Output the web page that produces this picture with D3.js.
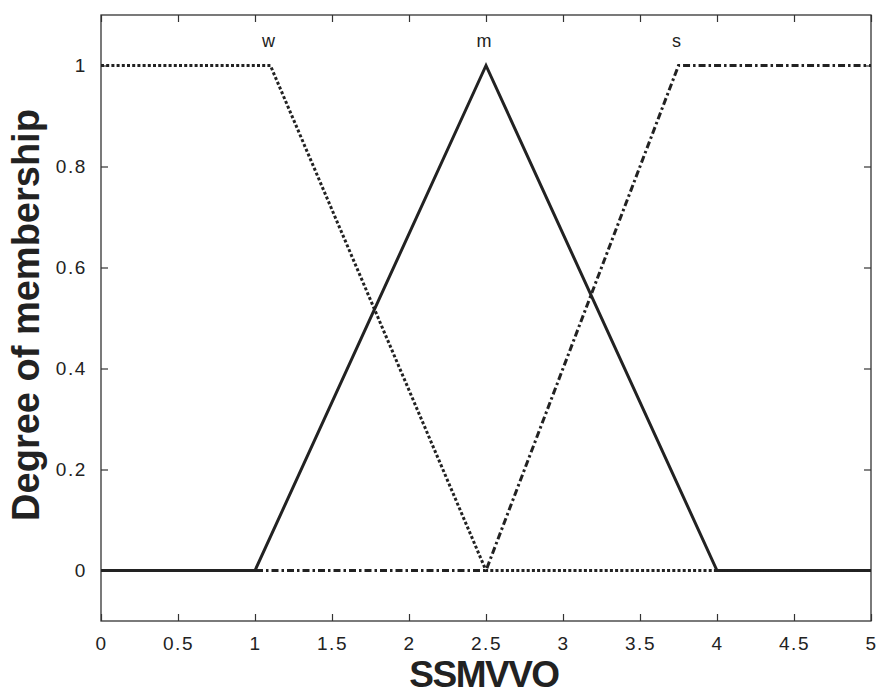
<!DOCTYPE html>
<html>
<head>
<meta charset="utf-8">
<script src="https://cdn.jsdelivr.net/npm/d3@7"></script>
<style>
  html, body { margin: 0; padding: 0; background: #fff; }
  svg { display: block; }
  text { font-family: "Liberation Sans", Arial, Helvetica, sans-serif; fill: #222; }
</style>
</head>
<body>
<svg id="chart" width="882" height="696"></svg>
<script>
// ---- data ----
const xTicks = [0, 0.5, 1, 1.5, 2, 2.5, 3, 3.5, 4, 4.5, 5];
const yTicks = [0, 0.2, 0.4, 0.6, 0.8, 1];
const xTickLabels = ["0", "0.5", "1", "1.5", "2", "2.5", "3", "3.5", "4", "4.5", "5"];
const yTickLabels = ["0", "0.2", "0.4", "0.6", "0.8", "1"];
const seriesNames = ["m", "w", "s"];
const mX = [0, 1, 2.5, 4, 5];
const mY = [0, 0, 1, 0, 0];
const wX = [0, 1.1, 2.5, 5];
const wY = [1, 1, 0, 0];
const sX = [0, 2.5, 3.75, 5];
const sY = [0, 0, 1, 1];
const labelNames = ["w", "m", "s"];
const labelX = [1.1, 2.5, 3.75];
const xLabel = "SSMVVO";
const yLabel = "Degree of membership";

// ---- layout ----
const svg = d3.select("#chart");
const L = 101, R = 871, T = 15, B = 621;
const x = d3.scaleLinear().domain([0, 5]).range([L, R]);
const y = d3.scaleLinear().domain([-0.1, 1.1]).range([B, T]);
const axisColor = "#333";
const tickLen = 7;

// frame
svg.append("rect").attr("x", L).attr("y", T).attr("width", R - L).attr("height", B - T)
  .attr("fill", "none").attr("stroke", axisColor).attr("stroke-width", 1.3);

// axes (inward ticks)
const fmtX = (d, i) => xTickLabels[i];
const fmtY = (d, i) => yTickLabels[i];
function styleAxis(g) {
  g.attr("font-size", 19);
  g.select(".domain").remove();
  g.selectAll(".tick line").attr("stroke", axisColor).attr("stroke-width", 1.2);
  g.selectAll(".tick text").attr("font-size", 19).attr("fill", "#3a3a3a")
    .attr("font-family", "Liberation Sans, Arial, sans-serif").style("letter-spacing", "1.6px");
}
svg.append("g").attr("transform", `translate(0,${B})`)
  .call(d3.axisBottom(x).tickValues(xTicks).tickFormat(fmtX).tickSizeInner(-tickLen).tickPadding(16).tickSizeOuter(0))
  .call(styleAxis);
svg.append("g").attr("transform", `translate(0,${T})`)
  .call(d3.axisTop(x).tickValues(xTicks).tickFormat("").tickSizeInner(-tickLen).tickSizeOuter(0))
  .call(styleAxis);
svg.append("g").attr("transform", `translate(${L},0)`)
  .call(d3.axisLeft(y).tickValues(yTicks).tickFormat(fmtY).tickSizeInner(-tickLen).tickPadding(14).tickSizeOuter(0))
  .call(styleAxis);
svg.append("g").attr("transform", `translate(${R},0)`)
  .call(d3.axisRight(y).tickValues(yTicks).tickFormat("").tickSizeInner(-tickLen).tickSizeOuter(0))
  .call(styleAxis);

// lines
const line = d3.line().x(d => x(d[0])).y(d => y(d[1]));
const series = [
  { name: "m", pts: d3.zip(mX, mY), dash: null },
  { name: "w", pts: d3.zip(wX, wY), dash: "3,2.2" },
  { name: "s", pts: d3.zip(sX, sY), dash: "7,3,2.5,3" }
];
svg.append("g").selectAll("path").data(series).join("path")
  .attr("d", d => line(d.pts))
  .attr("fill", "none")
  .attr("stroke", "#222")
  .attr("stroke-width", 3)
  .attr("stroke-linejoin", "miter")
  .attr("stroke-dasharray", d => d.dash);

// MF labels
svg.append("g").selectAll("text").data(labelNames).join("text")
  .attr("x", (d, i) => x(labelX[i]) - 2)
  .attr("y", 47)
  .attr("text-anchor", "middle")
  .attr("font-size", 18)
  .attr("fill", "#333")
  .text(d => d);

// axis titles
svg.append("text")
  .attr("x", x(2.5) - 2).attr("y", 687)
  .attr("text-anchor", "middle")
  .attr("font-size", 37).attr("font-weight", "bold")
  .style("letter-spacing", "-1.5px")
  .text(xLabel);
svg.append("text")
  .attr("transform", `translate(39,${(107 + 523) / 2}) rotate(-90)`)
  .attr("text-anchor", "middle")
  .attr("font-size", 38).attr("font-weight", "bold")
  .text(yLabel);
</script>
</body>
</html>
